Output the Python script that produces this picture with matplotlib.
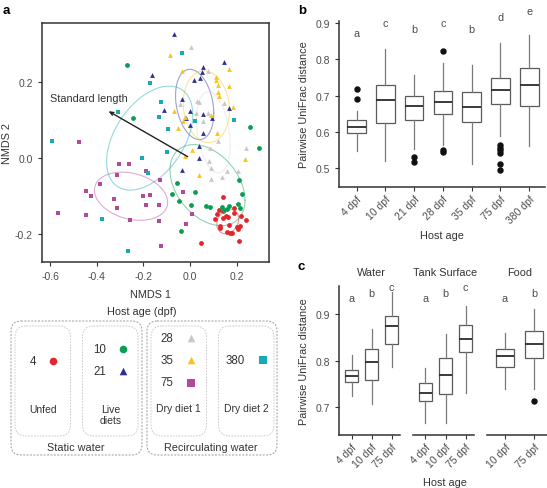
import numpy as np
import matplotlib.pyplot as plt
from matplotlib.patches import FancyBboxPatch

plt.rcParams['font.family'] = ['Liberation Sans', 'DejaVu Sans']
plt.rcParams['font.size'] = 7.5

W, H = 547, 489
txt_grey = '#4d4d4d'
line_grey = '#333333'


def fx(x):
    return x / W


def fy(y):
    return 1 - y / H


# ---------------- panel a : NMDS ----------------
age_labels = ['4', '10', '21', '28', '35', '75', '380']
age_colors = ['#e3262b', '#0a9d55', '#2e3192', '#c8c8c8', '#f7c51e', '#b04a9c', '#17a9b5']
age_markers = ['o', 'o', '^', '^', '^', 's', 's']
ellipse_alpha = [0.5, 0.45, 0.45, 0.3, 0.45, 0.45, 0.45]

nmds_4 = [(0.140, -0.101), (0.124, -0.135), (0.140, -0.138), (0.189, -0.132), (0.190, -0.144),
          (0.217, -0.152), (0.109, -0.160), (0.143, -0.156), (0.156, -0.153), (0.165, -0.155),
          (0.240, -0.162), (0.129, -0.177), (0.169, -0.175), (0.202, -0.181), (0.215, -0.177),
          (0.129, -0.184), (0.160, -0.194), (0.170, -0.197), (0.180, -0.196), (0.049, -0.222),
          (0.212, -0.216), (0.207, -0.187), (0.116, -0.146)]
nmds_10 = [(-0.272, 0.242), (-0.243, 0.105), (0.258, 0.082), (0.298, 0.027), (0.212, -0.058),
           (-0.054, -0.065), (0.021, -0.088), (-0.077, -0.094), (0.222, -0.095), (0.003, -0.123),
           (0.069, -0.126), (0.086, -0.127), (0.139, -0.127), (0.167, -0.125), (0.157, -0.133),
           (0.147, -0.136), (0.206, -0.121), (0.215, -0.132), (-0.040, -0.190), (-0.046, -0.112)]
nmds_21 = [(-0.067, 0.323), (0.146, 0.251), (0.054, 0.239), (0.052, 0.225), (0.019, 0.205),
           (0.044, 0.208), (-0.163, 0.218), (-0.034, 0.153), (-0.112, 0.126), (0.000, 0.123),
           (-0.017, 0.104), (0.000, 0.087), (0.057, 0.114), (0.096, 0.105), (0.167, 0.132),
           (0.054, 0.065), (0.037, 0.031), (0.037, 0.000), (-0.034, -0.031)]
nmds_28 = [(0.006, 0.289), (0.079, 0.227), (0.031, 0.150), (0.040, 0.146), (-0.043, 0.141),
           (0.027, 0.118), (0.057, 0.097), (0.076, 0.118), (0.146, 0.144), (0.122, 0.045),
           (0.086, 0.025), (0.240, 0.027), (0.083, -0.007), (0.090, -0.026), (0.157, -0.034),
           (0.205, -0.034), (0.090, -0.056), (0.136, -0.051)]
nmds_35 = [(-0.087, 0.269), (-0.036, 0.228), (0.166, 0.232), (0.113, 0.211), (0.110, 0.204),
           (0.122, 0.191), (0.166, 0.187), (0.122, 0.172), (0.126, 0.163), (0.183, 0.134),
           (-0.069, 0.122), (-0.031, 0.096), (-0.050, 0.078), (0.089, 0.113), (0.114, 0.065),
           (0.010, 0.021), (-0.021, 0.004), (0.037, -0.044), (0.235, -0.003), (-0.020, 0.106)]
nmds_75 = [(-0.475, 0.043), (-0.305, -0.017), (-0.263, -0.015), (-0.313, -0.044), (-0.386, -0.067),
           (-0.189, -0.033), (-0.129, -0.058), (-0.445, -0.087), (-0.423, -0.099), (-0.325, -0.108),
           (-0.203, -0.100), (-0.172, -0.096), (-0.312, -0.131), (-0.189, -0.122), (-0.134, -0.124),
           (-0.448, -0.148), (-0.567, -0.143), (-0.259, -0.162), (-0.134, -0.165), (-0.124, -0.229),
           (-0.029, -0.088), (0.009, -0.146), (-0.017, -0.173)]
nmds_380 = [(-0.594, 0.045), (-0.036, 0.275), (-0.172, 0.195), (-0.123, 0.146), (-0.134, 0.108),
            (-0.094, 0.077), (0.021, 0.098), (0.187, 0.100), (-0.310, 0.121), (-0.100, 0.015),
            (-0.205, 0.000), (-0.179, -0.040), (-0.379, -0.160), (-0.265, -0.243)]
nmds_groups = [nmds_4, nmds_10, nmds_21, nmds_28, nmds_35, nmds_75, nmds_380]

# ellipses: centre x, centre y, half width, half height, tilt (cos of phase)
ellipses = [(0.162, -0.166, 0.047, 0.032, 0.2),
            (0.075, -0.071, 0.161, 0.106, -0.37),
            (0.020, 0.140, 0.082, 0.092, -0.25),
            (0.100, 0.067, 0.072, 0.106, -0.3),
            (0.070, 0.134, 0.099, 0.094, -0.1),
            (-0.253, -0.100, 0.157, 0.063, -0.25),
            (-0.173, 0.052, 0.185, 0.136, 0.45)]

arrow_end = (-0.36, 0.126)

# ---------------- panel b ----------------
b_ages = ['4 dpf', '10 dpf', '21 dpf', '28 dpf', '35 dpf', '75 dpf', '380 dpf']
b_whislo = [0.548, 0.521, 0.553, 0.565, 0.512, 0.590, 0.560]
b_q1 = [0.597, 0.625, 0.633, 0.648, 0.628, 0.676, 0.672]
b_med = [0.613, 0.688, 0.670, 0.683, 0.668, 0.716, 0.730]
b_q3 = [0.634, 0.729, 0.698, 0.714, 0.709, 0.749, 0.777]
b_whishi = [0.658, 0.828, 0.757, 0.790, 0.784, 0.844, 0.867]
b_fliers = [[0.718, 0.690], [], [0.532, 0.518], [0.824, 0.551, 0.544], [],
            [0.564, 0.557, 0.551, 0.542, 0.512, 0.496], []]
b_letters = ['a', 'c', 'b', 'c', 'b', 'd', 'e']
b_letter_y = [0.865, 0.893, 0.875, 0.893, 0.875, 0.908, 0.924]

# ---------------- panel c ----------------
c_panels = ['Water', 'Tank Surface', 'Food']
c_ages = [['4 dpf', '10 dpf', '75 dpf'], ['4 dpf', '10 dpf', '75 dpf'], ['10 dpf', '75 dpf']]
c_whislo = [[0.723, 0.706, 0.787], [0.666, 0.666, 0.730], [0.739, 0.739]]
c_q1 = [[0.753, 0.759, 0.835], [0.712, 0.729, 0.818], [0.787, 0.805]]
c_med = [[0.767, 0.797, 0.875], [0.730, 0.769, 0.846], [0.810, 0.835]]
c_q3 = [[0.780, 0.825, 0.896], [0.752, 0.805, 0.877], [0.826, 0.864]]
c_whishi = [[0.812, 0.869, 0.947], [0.784, 0.857, 0.918], [0.859, 0.912]]
c_fliers = [[[], [], []], [[], [], []], [[], [0.714]]]
c_letters = [['a', 'b', 'c'], ['a', 'b', 'c'], ['a', 'b']]
c_letter_y = [[0.928, 0.939, 0.951], [0.928, 0.939, 0.951], [0.928, 0.939]]

fig = plt.figure(figsize=(W / 100, H / 100), dpi=100)

# overlay in pixel units for free text and the legend
ov = fig.add_axes([0, 0, 1, 1])
ov.set_xlim(0, W)
ov.set_ylim(H, 0)
ov.axis('off')
ov.patch.set_visible(False)

# ---- a
ax = fig.add_axes([fx(42), fy(263), fx(269) - fx(42), fy(24) - fy(263)])
for pts, col, mk in zip(nmds_groups, age_colors, age_markers):
    arr = np.array(pts)
    ax.scatter(arr[:, 0], arr[:, 1], s=12, c=col, marker=mk, linewidths=0, zorder=3)
t = np.linspace(0, 2 * np.pi, 200)
for (cx, cy, a, b, c), col, al in zip(ellipses, age_colors, ellipse_alpha):
    phi = np.arccos(c)
    ax.plot(cx + a * np.cos(t), cy + b * np.cos(t - phi), color=col, lw=0.8, alpha=al, zorder=2)
ax.annotate('', xy=arrow_end, xytext=(0, 0),
            arrowprops=dict(arrowstyle='->,head_length=0.35,head_width=0.15', color='#222222', lw=1.0),
            zorder=4)
ax.text(-0.60, 0.157, 'Standard length', fontsize=7.8, color='#333333', va='center')
ax.set_xlim(-0.635, 0.339)
ax.set_ylim(-0.272, 0.353)
ax.set_xticks([-0.6, -0.4, -0.2, 0.0, 0.2])
ax.set_yticks([-0.2, 0.0, 0.2])
ax.set_xticklabels(['-0.6', '-0.4', '-0.2', '0.0', '0.2'])
ax.set_yticklabels(['-0.2', '0.0', '0.2'])
ax.tick_params(length=3, color=line_grey, labelsize=7.5, labelcolor=txt_grey, width=0.8)
for s in ax.spines.values():
    s.set_color(line_grey)
    s.set_linewidth(1.1)
ax.set_xlabel('NMDS 1', fontsize=7.8, color='#333333')
ax.set_ylabel('NMDS 2', fontsize=7.8, color='#333333')
ax.xaxis.set_label_coords(0.48, -0.115)
ax.yaxis.set_label_coords(-0.13, 0.5)

# ---- legend of a
ov.text(142, 312, 'Host age (dpf)', ha='center', va='center', fontsize=7.8, color='#333333')
for x0, w in [(11, 131), (147, 130)]:
    ov.add_patch(FancyBboxPatch((x0, 322), w, 134, boxstyle='round,pad=0,rounding_size=10',
                                fill=False, ec='#9a9a9a', lw=0.7, ls=(0, (2, 1.5))))
for x0 in [15, 82.5, 151, 218.5]:
    ov.add_patch(FancyBboxPatch((x0, 327), 55.5, 110, boxstyle='round,pad=0,rounding_size=11',
                                fill=False, ec='#c4c4c4', lw=0.6, ls=(0, (2, 1.5))))
leg_pos = [(32.7, 52.7, 362), (100, 123.3, 350), (100, 123.3, 372), (167.3, 191, 338.5),
           (167.3, 191, 361), (167.3, 191, 383.5), (235, 262.7, 361)]
for lab, col, mk, (xt, xm, y) in zip(age_labels, age_colors, age_markers, leg_pos):
    ov.text(xt, y, lab, ha='center', va='center', fontsize=8.3, color='#333333')
    ov.scatter([xm], [y], s=30, c=col, marker=mk, linewidths=0)
ov.text(43.3, 410, 'Unfed', ha='center', va='center', fontsize=7.5, color='#333333')
ov.text(111, 415.5, 'Live\ndiets', ha='center', va='center', fontsize=7.5, color='#333333',
        linespacing=1.1)
ov.text(178, 408.5, 'Dry diet 1', ha='center', va='center', fontsize=7.5, color='#333333')
ov.text(246, 408.5, 'Dry diet 2', ha='center', va='center', fontsize=7.5, color='#333333')
ov.text(76, 448, 'Static water', ha='center', va='center', fontsize=7.8, color='#333333')
ov.text(211, 448, 'Recirculating water', ha='center', va='center', fontsize=7.8, color='#333333')


def box_stats(lo, q1, med, q3, hi, fl):
    return [dict(whislo=a, q1=b, med=c, q3=d, whishi=e, fliers=f)
            for a, b, c, d, e, f in zip(lo, q1, med, q3, hi, fl)]


box_kw = dict(showcaps=False, patch_artist=True, widths=0.65,
              boxprops=dict(facecolor='white', edgecolor='#5a5a5a', linewidth=0.9),
              medianprops=dict(color='#2b2b2b', linewidth=1.3),
              whiskerprops=dict(color='#7a7a7a', linewidth=0.9),
              flierprops=dict(marker='o', markerfacecolor='#111111', markeredgecolor='#111111',
                              markersize=3.6))


def style_axis(a, left=True):
    a.spines['top'].set_visible(False)
    a.spines['right'].set_visible(False)
    a.spines['bottom'].set_color(line_grey)
    a.spines['bottom'].set_linewidth(1.1)
    if left:
        a.spines['left'].set_color(line_grey)
        a.spines['left'].set_linewidth(1.1)
    else:
        a.spines['left'].set_visible(False)
        a.set_yticks([])
    a.tick_params(length=3, color=line_grey, width=0.8, labelsize=7.5, labelcolor=txt_grey)
    a.tick_params(axis='x', pad=2)


# ---- b
axb = fig.add_axes([fx(339.3), fy(187.7), fx(545) - fx(339.3), fy(22.2) - fy(187.7)])
pos_b = np.arange(1, len(b_ages) + 1)
axb.bxp(box_stats(b_whislo, b_q1, b_med, b_q3, b_whishi, b_fliers), positions=pos_b, **box_kw)
for p, l, yv in zip(pos_b, b_letters, b_letter_y):
    axb.text(p, yv, l, ha='center', va='baseline', fontsize=7.8, color=txt_grey)
axb.set_xlim(0.4, 7.55)
axb.set_ylim(0.449, 0.905)
axb.set_yticks([0.5, 0.6, 0.7, 0.8, 0.9])
axb.set_xticks(pos_b)
axb.set_xticklabels(b_ages, rotation=45, ha='right', rotation_mode='anchor')
style_axis(axb)

# ---- c
c_left = [339.3, 413.3, 486.7]
c_right = [400, 474.3, 547]
c_xlim = [(0.38, 3.42), (0.4, 3.43), (0.37, 2.45)]
c_title_x = [371.7, 445, 519.3]
for i in range(3):
    axc = fig.add_axes([fx(c_left[i]), fy(435.9), fx(c_right[i]) - fx(c_left[i]), fy(287.3) - fy(435.9)])
    pos = np.arange(1, len(c_ages[i]) + 1)
    axc.bxp(box_stats(c_whislo[i], c_q1[i], c_med[i], c_q3[i], c_whishi[i], c_fliers[i]),
            positions=pos, **box_kw)
    for p, l, yv in zip(pos, c_letters[i], c_letter_y[i]):
        axc.text(p, yv, l, ha='center', va='baseline', fontsize=7.8, color=txt_grey)
    axc.set_xlim(*c_xlim[i])
    axc.set_ylim(0.64, 0.96)
    axc.set_xticks(pos)
    axc.set_xticklabels(c_ages[i], rotation=45, ha='right', rotation_mode='anchor')
    if i == 0:
        axc.set_yticks([0.7, 0.8, 0.9])
        style_axis(axc)
    else:
        style_axis(axc, left=False)
    ov.text(c_title_x[i], 273.3, c_panels[i], ha='center', va='center', fontsize=7.8, color='#333333')

# axis titles of b and c
ov.text(442, 236, 'Host age', ha='center', va='center', fontsize=7.8, color='#333333')
ov.text(304, 105, 'Pairwise UniFrac distance', ha='center', va='center', rotation=90,
        fontsize=7.8, color='#333333')
ov.text(445, 482.7, 'Host age', ha='center', va='center', fontsize=7.8, color='#333333')
ov.text(304, 361.5, 'Pairwise UniFrac distance', ha='center', va='center', rotation=90,
        fontsize=7.8, color='#333333')

# panel letters
ov.text(6, 11, 'a', ha='center', va='center', fontsize=9.5, fontweight='bold')
ov.text(301.7, 11, 'b', ha='center', va='center', fontsize=9.5, fontweight='bold')
ov.text(300.7, 266.7, 'c', ha='center', va='center', fontsize=9.5, fontweight='bold')

fig.savefig('out.png', dpi=100, facecolor='white')
